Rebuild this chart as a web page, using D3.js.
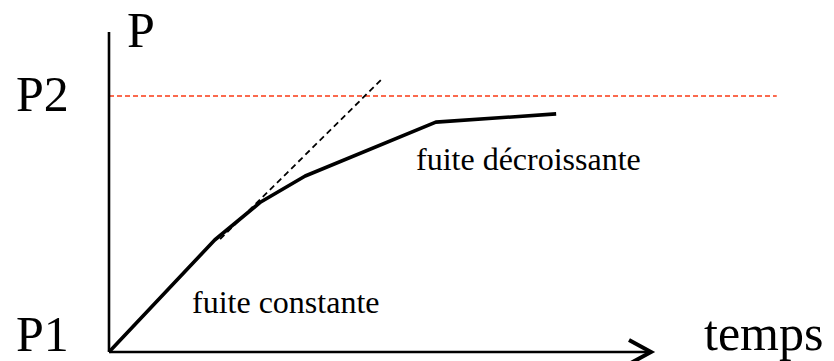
<!DOCTYPE html>
<html>
<head>
<meta charset="utf-8">
<script src="https://cdn.jsdelivr.net/npm/d3@7/dist/d3.min.js"></script>
<style>
  html, body { margin: 0; padding: 0; background: #fff; }
  svg { display: block; }
  text { font-family: "Liberation Serif", "Times New Roman", serif; fill: #000; }
</style>
</head>
<body>
<svg id="chart" width="834" height="361"></svg>
<script>
// Pressure rise over time: P1 at start, target level P2
const timeValues     = [0, 1.95, 2.8, 3.62, 6.03, 8.25];
const pressureValues = [0, 0.4375, 0.586, 0.6875, 0.898, 0.93];

// Tangent to the initial (constant leak) slope
const tangentTime     = [2.05, 5.02];
const tangentPressure = [0.441, 1.063];

// Reference levels
const levelLabels = ["P1", "P2"];
const levelValues = [0, 1];

const axisLabels   = ["P", "temps"];
const regionLabels = ["fuite constante", "fuite décroissante"];

const svg = d3.select("#chart");

const x = d3.scaleLinear().domain([0, 10]).range([109, 651]);
const y = d3.scaleLinear().domain([0, 1]).range([352, 96]);

const tMaxAxis = 10;
const pMaxAxis = 1.25;
const tMaxLevel = 12.32;

// P2 dashed level line
svg.append("line")
  .attr("x1", x(0)).attr("x2", x(tMaxLevel))
  .attr("y1", y(levelValues[1])).attr("y2", y(levelValues[1]))
  .attr("stroke", "#fb6a4e")
  .attr("stroke-width", 2)
  .attr("stroke-dasharray", "5,3");

// Axes
svg.append("line")
  .attr("x1", x(0)).attr("x2", x(0))
  .attr("y1", y(0)).attr("y2", y(pMaxAxis))
  .attr("stroke", "#000").attr("stroke-width", 2.6);

svg.append("line")
  .attr("x1", x(0)).attr("x2", x(tMaxAxis))
  .attr("y1", y(0)).attr("y2", y(0))
  .attr("stroke", "#000").attr("stroke-width", 2.6);

// Arrow head on the time axis
svg.append("path")
  .attr("d", `M${x(tMaxAxis) - 22},${y(0) - 12} L${x(tMaxAxis)},${y(0)} L${x(tMaxAxis) - 22},${y(0) + 12}`)
  .attr("fill", "none")
  .attr("stroke", "#000")
  .attr("stroke-width", 4)
  .attr("stroke-linejoin", "miter");

// Tangent line
const tangentData = tangentTime.map((t, i) => [t, tangentPressure[i]]);
svg.append("path")
  .datum(tangentData)
  .attr("d", d3.line().x(d => x(d[0])).y(d => y(d[1])))
  .attr("fill", "none")
  .attr("stroke", "#000")
  .attr("stroke-width", 1.8)
  .attr("stroke-dasharray", "6,4");

// Pressure curve
const curveData = timeValues.map((t, i) => [t, pressureValues[i]]);
svg.append("path")
  .datum(curveData)
  .attr("d", d3.line().x(d => x(d[0])).y(d => y(d[1])))
  .attr("fill", "none")
  .attr("stroke", "#000")
  .attr("stroke-width", 3.6)
  .attr("stroke-linejoin", "round");

// Level labels
svg.append("text").attr("x", 16).attr("y", 351)
  .attr("font-size", 50).text(levelLabels[0]);
svg.append("text").attr("x", 16).attr("y", 111)
  .attr("font-size", 50).text(levelLabels[1]);

// Axis titles
svg.append("text").attr("x", 127).attr("y", 47)
  .attr("font-size", 50).text(axisLabels[0]);
svg.append("text").attr("x", 704).attr("y", 350)
  .attr("font-size", 50).text(axisLabels[1]);

// Region annotations
svg.append("text").attr("x", 192).attr("y", 313)
  .attr("font-size", 32).text(regionLabels[0]);
svg.append("text").attr("x", 416).attr("y", 170)
  .attr("font-size", 32).text(regionLabels[1]);
</script>
</body>
</html>
